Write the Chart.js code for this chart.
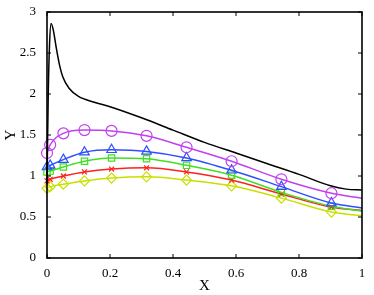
<!DOCTYPE html>
<html lang="en">
<head>
  <meta charset="UTF-8" />
  <title>X-Y curves</title>
  <script src="https://cdn.jsdelivr.net/npm/chart.js"></script>
  <style>
    html, body { margin: 0; padding: 0; background: #fff; }
    #wrap { width: 374px; height: 295px; }
  </style>
</head>
<body>
<div id="wrap"><canvas id="plot"></canvas></div>
<script>
  // marker positions along X (last point = line end, no marker)
  const xPts = [0, 0.01, 0.052, 0.119, 0.205, 0.316, 0.443, 0.586, 0.744, 0.903, 1];

  const magentaY = [1.28, 1.38, 1.52, 1.56, 1.55, 1.49, 1.35, 1.18, 0.96, 0.79, 0.73];
  const blueY    = [1.11, 1.13, 1.20, 1.29, 1.32, 1.30, 1.22, 1.07, 0.87, 0.67, 0.61];
  const greenY   = [1.05, 1.06, 1.11, 1.18, 1.22, 1.21, 1.13, 1.01, 0.80, 0.63, 0.57];
  const redY     = [0.94, 0.96, 1.00, 1.05, 1.085, 1.10, 1.05, 0.95, 0.78, 0.62, 0.58];
  const yellowY  = [0.85, 0.87, 0.90, 0.94, 0.975, 0.99, 0.95, 0.88, 0.73, 0.56, 0.515];

  // black curve (no markers)
  const blackX = [0, 0.004, 0.008, 0.013, 0.02, 0.03, 0.04, 0.05, 0.07, 0.1, 0.15, 0.2, 0.3, 0.4, 0.5, 0.6, 0.7, 0.8, 0.9, 0.95, 1];
  const blackY = [0.9, 2.0, 2.6, 2.86, 2.78, 2.55, 2.35, 2.21, 2.07, 1.97, 1.9, 1.845, 1.71, 1.56, 1.41, 1.28, 1.15, 1.02, 0.88, 0.84, 0.83];

  const xTicks = [0, 0.2, 0.4, 0.6, 0.8, 1];
  const yTicks = [0, 0.5, 1, 1.5, 2, 2.5, 3];

  const pairs = (xs, ys) => xs.map((x, i) => ({ x: x, y: ys[i] }));
  const radii = (r) => xPts.map((_, i) => i === xPts.length - 1 ? 0 : r);

  function series(ys, color, style, r) {
    return {
      data: pairs(xPts, ys),
      borderColor: color,
      backgroundColor: 'rgba(0,0,0,0)',
      borderWidth: 1.5,
      pointStyle: style,
      pointRadius: radii(r),
      pointBorderColor: color,
      pointBorderWidth: 1.2,
      cubicInterpolationMode: 'monotone',
      clip: false
    };
  }

  // inward ticks on all four sides + box
  const boxTicks = {
    id: 'boxTicks',
    afterDatasetsDraw(chart) {
      const { ctx, chartArea: a, scales } = chart;
      ctx.save();
      ctx.strokeStyle = '#000';
      ctx.lineWidth = 1;
      const len = 4;
      ctx.beginPath();
      xTicks.forEach(v => {
        const px = scales.x.getPixelForValue(v);
        ctx.moveTo(px, a.bottom); ctx.lineTo(px, a.bottom - len);
        ctx.moveTo(px, a.top); ctx.lineTo(px, a.top + len);
      });
      yTicks.forEach(v => {
        const py = scales.y.getPixelForValue(v);
        ctx.moveTo(a.left, py); ctx.lineTo(a.left + len, py);
        ctx.moveTo(a.right, py); ctx.lineTo(a.right - len, py);
      });
      ctx.stroke();
      ctx.lineWidth = 1.6;
      ctx.strokeRect(a.left, a.top, a.right - a.left, a.bottom - a.top);
      ctx.restore();
    }
  };

  const tickFont = { family: 'Liberation Serif', size: 13 };

  new Chart(document.getElementById('plot'), {
    type: 'line',
    data: {
      datasets: [
        {
          data: pairs(blackX, blackY),
          borderColor: '#000',
          borderWidth: 1.5,
          pointRadius: 0,
          cubicInterpolationMode: 'monotone',
          clip: false
        },
        series(magentaY, '#c040f0', 'circle', 5.5),
        series(blueY, '#2f4fff', 'triangle', 5.5),
        series(greenY, '#40e020', 'rect', 4.5),
        series(redY, '#ff2020', 'crossRot', 3.5),
        series(yellowY, '#c8e000', 'rectRot', 5)
      ]
    },
    options: {
      responsive: true,
      maintainAspectRatio: false,
      animation: false,
      layout: { padding: { top: 12, right: 12, left: 0, bottom: 0 } },
      plugins: { legend: { display: false }, tooltip: { enabled: false } },
      scales: {
        x: {
          type: 'linear',
          min: 0, max: 1,
          afterBuildTicks: s => { s.ticks = xTicks.map(v => ({ value: v })); },
          afterFit: s => { s.height = 37; },
          grid: { display: false },
          border: { display: false },
          ticks: { color: '#000', font: tickFont, padding: 0, maxRotation: 0, callback: v => String(v) },
          title: { display: true, text: 'X', color: '#000', font: { family: 'Liberation Serif', size: 15 }, padding: { top: -3, bottom: 0 } }
        },
        y: {
          type: 'linear',
          min: 0, max: 3,
          afterBuildTicks: s => { s.ticks = yTicks.map(v => ({ value: v })); },
          afterFit: s => { s.width = 47; },
          grid: { display: false },
          border: { display: false },
          ticks: { color: '#000', font: tickFont, padding: 3, callback: v => String(v) },
          title: { display: true, text: 'Y', color: '#000', font: { family: 'Liberation Serif', size: 15 }, padding: { top: 2, bottom: 0 } }
        }
      }
    },
    plugins: [boxTicks]
  });
</script>
</body>
</html>
